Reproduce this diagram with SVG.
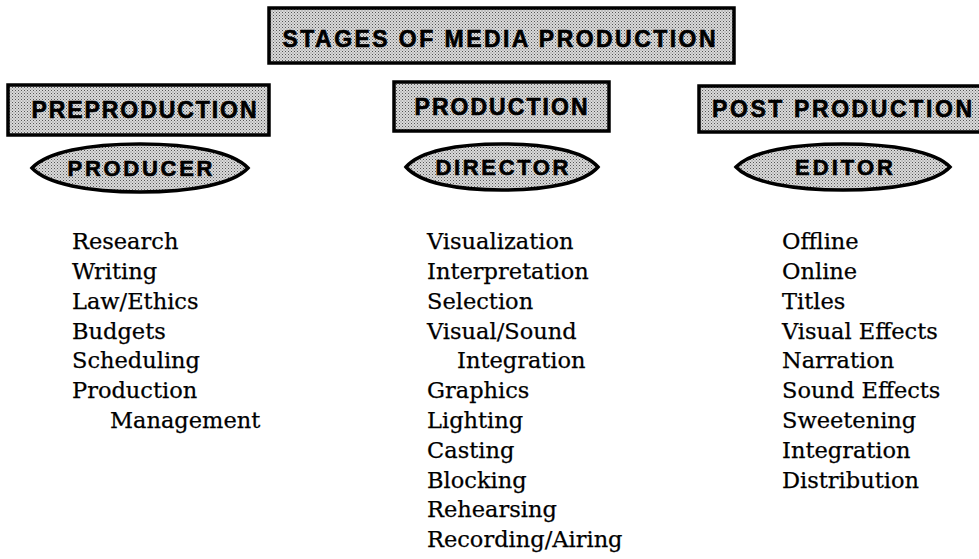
<svg xmlns="http://www.w3.org/2000/svg" width="979" height="559" viewBox="0 0 979 559">
  <defs>
    <!-- halftone screen used to shade the heading boxes -->
    <pattern id="screen" width="3" height="3" patternUnits="userSpaceOnUse">
      <rect width="3" height="3" fill="#dadada"/>
      <rect x="0" y="0" width="1" height="1" fill="#555"/>
      <rect x="1.5" y="1.5" width="1" height="1" fill="#7a7a7a"/>
    </pattern>
  </defs>
  <style>
    .box { fill: url(#screen); stroke: #000; stroke-width: 3.5; }
    .head { font-family: "Liberation Sans", Arial, sans-serif; font-weight: bold; font-size: 23px; fill: #000; stroke: #000; stroke-width: 0.6; text-anchor: middle; }
    .role { font-family: "Liberation Sans", Arial, sans-serif; font-weight: bold; font-size: 22px; fill: #000; stroke: #000; stroke-width: 0.6; text-anchor: middle; }
    .item { font-family: "DejaVu Serif", "Liberation Serif", serif; font-size: 22.5px; fill: #000; stroke: #000; stroke-width: 0.25; }
  </style>
  <rect width="979" height="559" fill="#fff"/>

  <!-- title -->
  <g id="title">
    <rect class="box" x="269" y="8" width="465" height="55"/>
    <text class="head" x="499" y="47" textLength="433" lengthAdjust="spacing">STAGES OF MEDIA PRODUCTION</text>
  </g>

  <!-- stage headings -->
  <g id="preproduction">
    <rect class="box" x="8" y="85" width="261" height="50"/>
    <text class="head" x="144" y="118" textLength="225" lengthAdjust="spacing">PREPRODUCTION</text>
  </g>
  <g id="production">
    <rect class="box" x="394" y="82" width="215" height="49"/>
    <text class="head" x="501" y="115" textLength="173" lengthAdjust="spacing">PRODUCTION</text>
  </g>
  <g id="postproduction">
    <rect class="box" x="699" y="86" width="282" height="46"/>
    <text class="head" x="842" y="117" textLength="260" lengthAdjust="spacing">POST PRODUCTION</text>
  </g>

  <!-- roles -->
  <g id="producer">
    <path class="box" d="M32 168 C47 152 88 144 140 144 C192 144 233 152 248 168 C233 184 192 192 140 192 C88 192 47 184 32 168 Z"/>
    <text class="role" x="140" y="176" textLength="145" lengthAdjust="spacing">PRODUCER</text>
  </g>
  <g id="director">
    <path class="box" d="M406 167 C420 151 457 144 502 144 C547 144 584 151 598 167 C584 183 547 190 502 190 C457 190 420 183 406 167 Z"/>
    <text class="role" x="502" y="175" textLength="133" lengthAdjust="spacing">DIRECTOR</text>
  </g>
  <g id="editor">
    <path class="box" d="M736 167 C751 151 795 144 843 144 C891 144 935 151 950 167 C935 183 891 190 843 190 C795 190 751 183 736 167 Z"/>
    <text class="role" x="844" y="175" textLength="98" lengthAdjust="spacing">EDITOR</text>
  </g>

  <!-- task lists -->
  <g id="producer-tasks" class="item">
    <text x="72" y="249">Research</text>
    <text x="72" y="279">Writing</text>
    <text x="72" y="308.5">Law/Ethics</text>
    <text x="72" y="338.5">Budgets</text>
    <text x="72" y="368">Scheduling</text>
    <text x="72" y="398">Production</text>
    <text x="110" y="428">Management</text>
  </g>
  <g id="director-tasks" class="item">
    <text x="427" y="249">Visualization</text>
    <text x="427" y="279">Interpretation</text>
    <text x="427" y="308.5">Selection</text>
    <text x="427" y="338.5">Visual/Sound</text>
    <text x="457" y="368">Integration</text>
    <text x="427" y="398">Graphics</text>
    <text x="427" y="428">Lighting</text>
    <text x="427" y="457.5">Casting</text>
    <text x="427" y="487.5">Blocking</text>
    <text x="427" y="517">Rehearsing</text>
    <text x="427" y="547">Recording/Airing</text>
  </g>
  <g id="editor-tasks" class="item">
    <text x="782" y="249">Offline</text>
    <text x="782" y="279">Online</text>
    <text x="782" y="308.5">Titles</text>
    <text x="782" y="338.5">Visual Effects</text>
    <text x="782" y="368">Narration</text>
    <text x="782" y="398">Sound Effects</text>
    <text x="782" y="428">Sweetening</text>
    <text x="782" y="457.5">Integration</text>
    <text x="782" y="487.5">Distribution</text>
  </g>
</svg>
